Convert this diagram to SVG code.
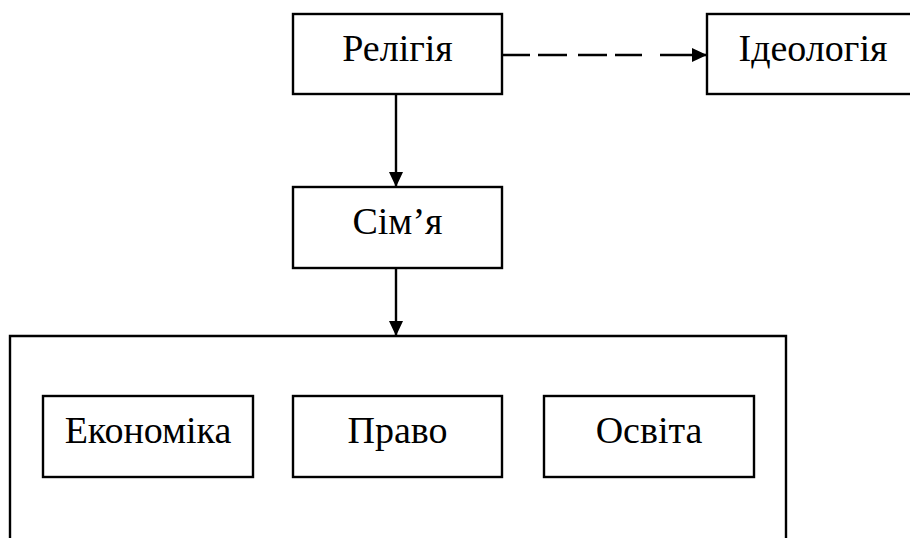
<svg xmlns="http://www.w3.org/2000/svg" width="910" height="538" viewBox="0 0 910 538">
<style>
  .box { fill: #fff; stroke: #000; stroke-width: 2.4; }
  .lbl { font-family: 'Liberation Serif', 'Times New Roman', serif; font-size: 38px; fill: #000; text-anchor: middle; }
  .ln { stroke: #000; stroke-width: 2.4; fill: none; }
</style>
<defs>
  <marker id="ah" markerWidth="15" markerHeight="14" refX="15" refY="7" orient="auto" markerUnits="userSpaceOnUse">
    <path d="M0,0 L15,7 L0,14 Z" fill="#000"/>
  </marker>
</defs>
<rect width="910" height="538" fill="#fff"/>
<g id="container">
  <path class="ln" d="M10,545 V336 H786 V545"/>
</g>
<g id="religion">
  <rect class="box" x="293" y="14" width="209" height="80"/>
  <text class="lbl" x="397.5" y="61">Релігія</text>
</g>
<g id="ideology">
  <rect class="box" x="707" y="14" width="210" height="80"/>
  <text class="lbl" x="813" y="61">Ідеологія</text>
</g>
<g id="family">
  <rect class="box" x="293" y="187" width="209" height="81"/>
  <text class="lbl" x="397.5" y="234">Сім’я</text>
</g>
<g id="economy">
  <rect class="box" x="43" y="396" width="210" height="81"/>
  <text class="lbl" x="148" y="443">Економіка</text>
</g>
<g id="law">
  <rect class="box" x="293" y="396" width="209" height="81"/>
  <text class="lbl" x="397.5" y="443">Право</text>
</g>
<g id="education">
  <rect class="box" x="544" y="396" width="210" height="81"/>
  <text class="lbl" x="649" y="443">Освіта</text>
</g>
<g id="connectors">
  <path class="ln" d="M502,55 H530 M538,55 H567 M578,55 H607 M615,55 H642"/>
  <path class="ln" d="M660,55 H707" marker-end="url(#ah)"/>
  <path class="ln" d="M396,94 V187" marker-end="url(#ah)"/>
  <path class="ln" d="M396,268 V336" marker-end="url(#ah)"/>
</g>
</svg>
